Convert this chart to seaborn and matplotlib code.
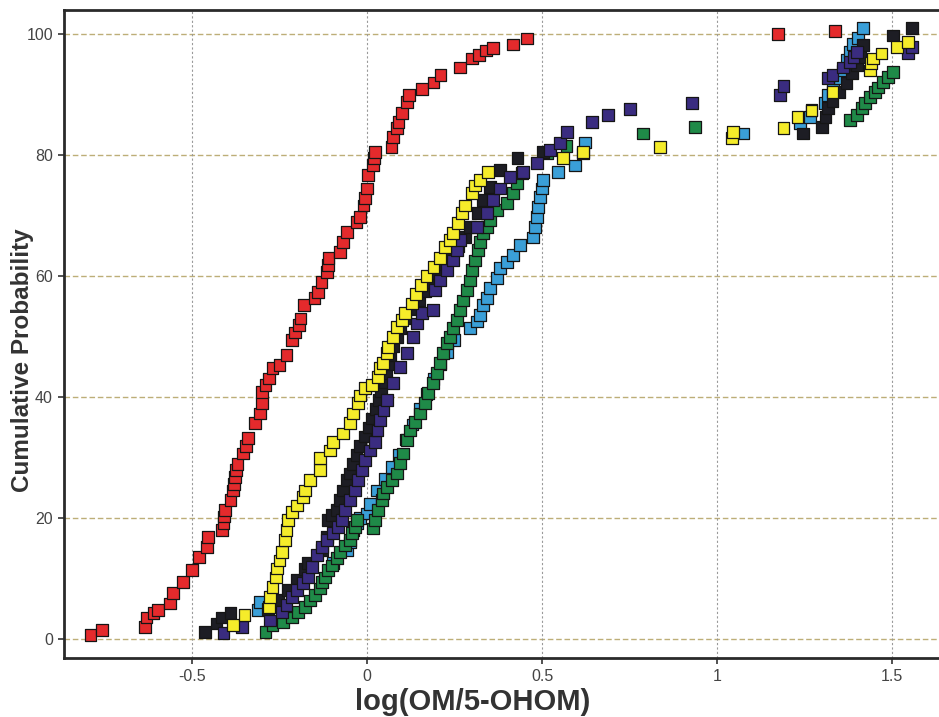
# %% load modules

import matplotlib

matplotlib.use("Agg")
import matplotlib.pyplot as plt
import numpy as np
import pandas as pd
import seaborn as sns

# %% data (x = log ratio, y = cumulative probability %)

red_x = [-0.79, -0.757, -0.634, -0.63, -0.61, -0.597, -0.563, -0.554, -0.525, -0.50,
         -0.48, -0.457, -0.454, -0.414, -0.41, -0.408, -0.405, -0.39, -0.383, -0.38,
         -0.377, -0.374, -0.37, -0.354, -0.347, -0.34, -0.32, -0.305, -0.30, -0.30,
         -0.29, -0.28, -0.27, -0.25, -0.23, -0.215, -0.205, -0.195, -0.19, -0.18,
         -0.15, -0.14, -0.13, -0.115, -0.112, -0.11, -0.077, -0.068, -0.057, -0.03,
         -0.02, -0.01, -0.005, 0.0, 0.003, 0.017, 0.02, 0.023, 0.07, 0.075,
         0.085, 0.09, 0.10, 0.113, 0.12, 0.157, 0.19, 0.21, 0.266, 0.30,
         0.32, 0.34, 0.36, 0.417, 0.457, 1.174, 1.337]
red_y = [0.7, 1.5, 2.0, 3.6, 4.3, 4.8, 5.9, 7.6, 9.4, 11.4,
         13.6, 15.2, 16.9, 18.0, 19.2, 20.3, 21.3, 23.0, 24.6, 25.7,
         26.8, 28.0, 29.0, 30.7, 32.0, 33.2, 35.7, 37.3, 39.0, 40.8,
         42.0, 43.1, 44.8, 45.3, 47.0, 49.4, 50.7, 52.0, 53.0, 55.2,
         56.4, 57.4, 59.0, 60.7, 61.8, 63.0, 64.0, 65.6, 67.3, 68.9,
         69.8, 71.7, 72.9, 74.5, 76.7, 78.4, 79.5, 80.5, 81.3, 83.0,
         84.5, 85.5, 87.0, 88.8, 90.0, 91.0, 92.0, 93.2, 94.5, 96.0,
         96.5, 97.3, 97.7, 98.3, 99.3, 100.0, 100.5]

yellow_x = [-0.383, -0.35, -0.28, -0.277, -0.27, -0.26, -0.257, -0.25, -0.243, -0.234,
            -0.23, -0.225, -0.215, -0.2, -0.183, -0.177, -0.163, -0.134, -0.134, -0.106,
            -0.097, -0.069, -0.049, -0.04, -0.026, -0.02, -0.006, 0.014, 0.031, 0.037,
            0.046, 0.057, 0.06, 0.074, 0.086, 0.10, 0.109, 0.129, 0.14, 0.155,
            0.17, 0.19, 0.209, 0.223, 0.237, 0.246, 0.26, 0.271, 0.28, 0.30,
            0.309, 0.323, 0.346, 0.56, 0.617, 0.837, 1.043, 1.046, 1.19, 1.23,
            1.27, 1.33, 1.437, 1.44, 1.446, 1.47, 1.514, 1.546]
yellow_y = [2.3, 4.0, 5.3, 7.0, 8.6, 10.2, 11.7, 13.0, 14.4, 16.4,
            18.0, 19.7, 21.0, 22.1, 23.5, 24.6, 26.3, 28.0, 30.0, 31.2,
            32.6, 34.0, 35.7, 37.3, 39.0, 40.3, 41.5, 42.0, 43.3, 44.8,
            45.6, 47.3, 48.3, 50.0, 51.6, 52.7, 53.9, 55.5, 57.0, 58.5,
            60.0, 61.5, 63.0, 64.8, 66.0, 67.1, 68.8, 70.4, 71.7, 73.7,
            75.0, 75.9, 77.2, 79.5, 80.5, 81.3, 82.8, 83.8, 84.5, 86.3,
            87.4, 90.4, 94.0, 95.2, 96.0, 96.8, 97.9, 98.7]

black_x = [-0.463, -0.43, -0.414, -0.39, -0.283, -0.255, -0.226, -0.2, -0.177, -0.169,
           -0.129, -0.114, -0.111, -0.1, -0.086, -0.077, -0.069, -0.057, -0.049, -0.04,
           -0.03, -0.02, -0.005, 0.005, 0.015, 0.025, 0.035, 0.04, 0.05, 0.055,
           0.06, 0.065, 0.075, 0.085, 0.095, 0.11, 0.13, 0.15, 0.165, 0.18,
           0.2, 0.22, 0.24, 0.26, 0.28, 0.294, 0.317, 0.331, 0.351, 0.38,
           0.43, 0.503, 1.246, 1.30, 1.31, 1.317, 1.33, 1.35, 1.37, 1.385,
           1.40, 1.41, 1.417, 1.503, 1.557]
black_y = [1.2, 2.6, 3.6, 4.3, 5.0, 6.5, 8.1, 9.8, 11.6, 12.6,
           14.7, 16.9, 19.7, 20.5, 21.3, 23.0, 24.6, 26.3, 27.4, 29.0,
           30.5, 32.0, 33.5, 35.0, 36.5, 38.0, 39.5, 41.0, 42.5, 44.0,
           45.5, 47.0, 48.5, 50.0, 51.5, 53.0, 54.5, 56.0, 57.5, 59.0,
           60.5, 62.0, 63.5, 65.0, 66.5, 68.1, 70.4, 72.6, 74.7, 77.5,
           79.6, 80.5, 83.6, 84.6, 86.3, 87.8, 89.0, 90.4, 91.9, 93.5,
           94.9, 96.2, 98.2, 99.8, 101.0]

navy_x = [-0.41, -0.357, -0.277, -0.243, -0.23, -0.215, -0.2, -0.183, -0.169, -0.157,
          -0.143, -0.129, -0.114, -0.097, -0.083, -0.071, -0.063, -0.049, -0.034, -0.026,
          -0.014, -0.006, 0.009, 0.023, 0.03, 0.037, 0.047, 0.057, 0.074, 0.094,
          0.114, 0.131, 0.143, 0.157, 0.189, 0.194, 0.209, 0.229, 0.246, 0.257,
          0.266, 0.314, 0.343, 0.36, 0.38, 0.409, 0.446, 0.486, 0.523, 0.551,
          0.571, 0.643, 0.689, 0.751, 0.929, 1.18, 1.19, 1.317, 1.33, 1.36,
          1.38, 1.39, 1.40, 1.546, 1.557]
navy_y = [1.0, 2.0, 3.1, 4.5, 5.6, 7.0, 8.1, 9.3, 10.2, 11.9,
          13.9, 15.2, 16.4, 17.5, 18.5, 19.7, 21.3, 23.0, 24.6, 26.3,
          28.0, 29.6, 31.2, 32.6, 34.5, 36.2, 37.8, 39.5, 42.3, 45.0,
          47.3, 50.0, 52.2, 53.9, 54.4, 57.7, 59.3, 61.0, 62.6, 64.3,
          66.0, 68.1, 70.4, 72.6, 74.5, 76.4, 77.2, 78.7, 80.8, 82.0,
          83.8, 85.5, 86.6, 87.7, 88.6, 89.9, 91.4, 92.7, 93.2, 94.5,
          95.4, 96.2, 97.0, 96.8, 97.9]

green_x = [-0.29, -0.27, -0.24, -0.215, -0.197, -0.177, -0.163, -0.149, -0.134, -0.129,
           -0.12, -0.111, -0.1, -0.086, -0.077, -0.063, -0.049, -0.043, -0.034, 0.017,
           -0.029, 0.023, 0.031, 0.043, 0.046, 0.057, 0.071, 0.086, 0.094, 0.103,
           0.114, 0.123, 0.137, 0.151, 0.166, 0.174, 0.189, 0.2, 0.209, 0.217,
           0.229, 0.237, 0.246, 0.257, 0.266, 0.274, 0.286, 0.294, 0.3, 0.309,
           0.317, 0.323, 0.331, 0.343, 0.351, 0.371, 0.40, 0.417, 0.429, 0.443,
           0.514, 0.57, 0.789, 0.937, 1.38, 1.40, 1.414, 1.423, 1.437, 1.451,
           1.46, 1.474, 1.489, 1.503]
green_y = [1.2, 2.3, 2.8, 3.6, 4.5, 5.3, 6.4, 7.3, 8.4, 9.4,
           10.2, 11.4, 12.2, 13.4, 14.4, 15.5, 16.4, 17.5, 18.5, 18.3,
           19.7, 19.7, 21.3, 23.0, 24.1, 25.1, 26.3, 27.4, 29.1, 30.7,
           32.9, 34.5, 35.9, 37.3, 39.0, 40.7, 42.3, 44.0, 45.6, 47.3,
           48.9, 50.0, 51.4, 52.7, 54.4, 56.0, 57.7, 59.3, 61.0, 62.6,
           64.3, 65.6, 67.1, 68.1, 69.3, 70.9, 72.1, 73.7, 75.4, 77.0,
           80.3, 81.5, 83.6, 84.6, 85.8, 86.6, 87.8, 88.6, 89.6, 90.4,
           91.2, 92.1, 92.9, 93.7]

lightblue_x = [-0.311, -0.306, -0.097, -0.057, -0.049, -0.04, -0.029, -0.02, 0.0, 0.009,
               0.029, 0.05, 0.07, 0.09, 0.11, 0.13, 0.15, 0.17, 0.19, 0.21,
               0.23, 0.25, 0.294, 0.314, 0.323, 0.331, 0.343, 0.351, 0.371, 0.38,
               0.40, 0.417, 0.437, 0.474, 0.48, 0.486, 0.489, 0.494, 0.50, 0.503,
               0.546, 0.594, 0.617, 0.623, 1.074, 1.237, 1.266, 1.27, 1.309, 1.317,
               1.331, 1.351, 1.36, 1.371, 1.38, 1.389, 1.403, 1.417]
lightblue_y = [4.8, 6.2, 12.6, 14.7, 16.0, 18.0, 19.2, 20.0, 20.8, 22.3,
               24.6, 26.5, 28.5, 30.5, 33.0, 35.5, 38.0, 40.5, 43.0, 45.5,
               47.5, 49.5, 51.4, 52.5, 53.6, 55.2, 56.4, 58.0, 59.7, 61.3,
               62.3, 63.5, 65.1, 66.4, 68.1, 69.8, 71.4, 73.1, 74.5, 75.9,
               77.2, 78.3, 80.3, 82.1, 83.6, 85.3, 86.3, 87.5, 88.6, 89.9,
               91.0, 92.7, 94.0, 95.7, 97.0, 98.4, 99.4, 101.0]

# drawing order back to front
series = {
    "lightblue": (lightblue_x, lightblue_y, "#3a9fd8"),
    "green": (green_x, green_y, "#1f8a48"),
    "black": (black_x, black_y, "#1d1d24"),
    "navy": (navy_x, navy_y, "#3a2c80"),
    "yellow": (yellow_x, yellow_y, "#f5ec2a"),
    "red": (red_x, red_y, "#e42a2c"),
}

frames = []
for name, (xs, ys, _) in series.items():
    frames.append(pd.DataFrame({"x": xs, "y": ys, "series": name}))
df = pd.concat(frames, ignore_index=True)
palette = {name: c for name, (_, _, c) in series.items()}

# %% plot

sns.set_style("white")
plt.rcParams["font.family"] = ["Liberation Sans", "DejaVu Sans"]

fig = plt.figure(figsize=(9.39, 7.17), dpi=100)
ax = fig.add_axes([64 / 939, 1 - 658 / 717, 875 / 939, 648 / 717])

sns.scatterplot(
    data=df, x="x", y="y", hue="series", palette=palette,
    marker="s", s=72, edgecolor="#151515", linewidth=0.9,
    legend=False, ax=ax, zorder=3,
)

ax.set_xlim(-0.866, 1.634)
ax.set_ylim(-3.1, 104)
ax.set_xticks([-0.5, 0, 0.5, 1, 1.5])
ax.set_xticklabels(["-0.5", "0", "0.5", "1", "1.5"])
ax.set_yticks([0, 20, 40, 60, 80, 100])

ax.grid(False)
for yv in [0, 20, 40, 60, 80, 100]:
    ax.axhline(yv, color="#bdae78", lw=1.0, ls=(0, (4, 2)), zorder=1)
for xv in [-0.5, 0, 0.5, 1, 1.5]:
    ax.axvline(xv, color="#9a9a9a", lw=0.8, ls=(0, (2, 2)), zorder=1)

for side in ["left", "bottom", "top"]:
    ax.spines[side].set_visible(True)
    ax.spines[side].set_color("#2a2a2a")
    ax.spines[side].set_linewidth(2.0)
ax.spines["right"].set_visible(False)

ax.tick_params(axis="both", direction="out", length=4, width=1.2,
               color="#333333", labelcolor="#444444", labelsize=11.5)
ax.tick_params(axis="y", pad=4, left=True)
ax.tick_params(axis="x", pad=4, bottom=True)

ax.set_xlabel("log(OM/5-OHOM)", fontsize=21, fontweight="bold", color="#333333")
ax.set_ylabel("Cumulative Probability", fontsize=17.5, fontweight="bold",
              color="#333333", va="center")
ax.xaxis.set_label_coords(0.467, -0.046)
ax.yaxis.set_label_coords(-0.047, 0.46)

fig.savefig("out.png", facecolor="w", dpi=100)
